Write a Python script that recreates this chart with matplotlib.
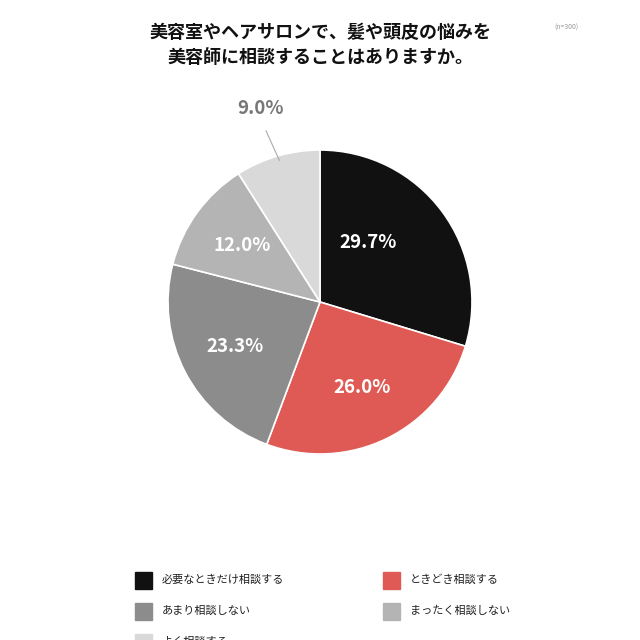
import numpy as np
import matplotlib
matplotlib.use('Agg')
import matplotlib.pyplot as plt
from matplotlib.patches import Rectangle

plt.rcParams['font.family'] = ['Noto Sans CJK JP', 'DejaVu Sans']

title = '美容室やヘアサロンで、髪や頭皮の悩みを\n美容師に相談することはありますか。'
note = '(n=300)'
labels = ['必要なときだけ相談する', 'ときどき相談する', 'あまり相談しない',
          'まったく相談しない', 'よく相談する']
values = [29.7, 26.0, 23.3, 12.0, 9.0]
colors = ['#111111', '#e05a55', '#8c8c8c', '#b4b4b4', '#d9d9d9']

fig = plt.figure(figsize=(6.4, 6.4), dpi=100)
ax = fig.add_axes([0, 0, 1, 1])
ax.set_xlim(0, 640)
ax.set_ylim(0, 640)
ax.axis('off')

cx, cy, r = 320, 338, 152
wedges, _ = ax.pie(values, colors=colors, startangle=90, counterclock=False,
                   center=(cx, cy), radius=r,
                   wedgeprops=dict(edgecolor='white', linewidth=1.2))
ax.set_xlim(0, 640)
ax.set_ylim(0, 640)
ax.set_aspect('equal')

# ラベル位置
for i, (w, v) in enumerate(zip(wedges, values)):
    ang = np.deg2rad((w.theta1 + w.theta2) / 2)
    if i == 0:
        ang = np.deg2rad(51)
        d = 0.5
    else:
        d = 0.63
    if i < 4:
        ax.text(cx + d * r * np.cos(ang), cy + d * r * np.sin(ang), f'{v:.1f}%',
                ha='center', va='center', color='white', fontsize=13.5,
                fontweight='bold')
    else:
        a1 = np.deg2rad(106)
        x1, y1 = cx + 0.97 * r * np.cos(a1), cy + 0.97 * r * np.sin(a1)
        a2 = np.deg2rad(107.5)
        x2, y2 = cx + 1.18 * r * np.cos(a2), cy + 1.18 * r * np.sin(a2)
        ax.plot([x1, x2], [y1, y2], color='#aaaaaa', lw=0.8)
        ax.text(260, 640 - 108, f'{v:.1f}%', ha='center', va='center',
                color='#777777', fontsize=13.5, fontweight='bold')

fig.text(0.5, 1 - 45 / 640, title, ha='center', va='center', fontsize=13,
         fontweight='bold', linespacing=1.45, color='#111111')
fig.text(566 / 640, 1 - 28 / 640, note, ha='center', va='center',
         fontsize=5, color='#999999')

# 凡例
col_x = [135, 383]
row_y = [580, 611, 642]
for i, (lab, c) in enumerate(zip(labels, colors)):
    x = col_x[i % 2]
    y = 640 - row_y[i // 2]
    ax.add_patch(Rectangle((x, y - 8.5), 17, 17, color=c, clip_on=False))
    ax.text(x + 27, y, lab, ha='left', va='center', fontsize=8,
            color='#222222')

fig.savefig('out.png', dpi=100)
